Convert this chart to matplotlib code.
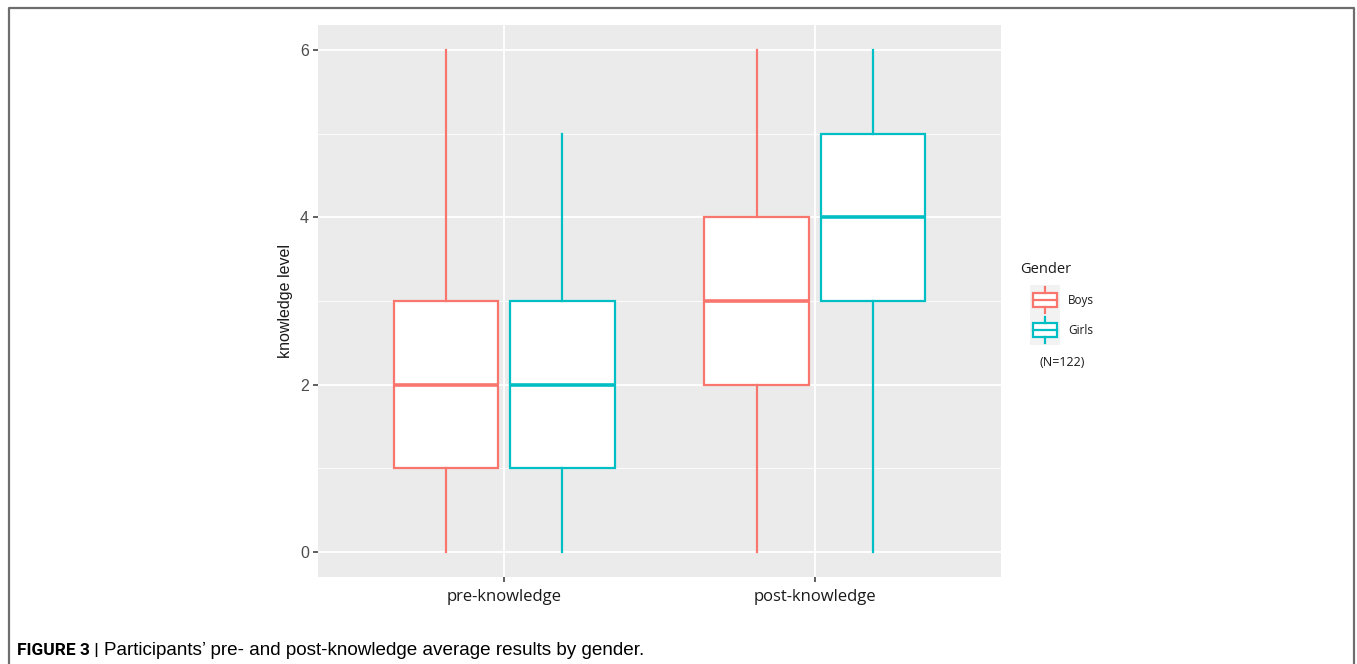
import matplotlib
matplotlib.use("Agg")
import matplotlib.pyplot as plt
from matplotlib.patches import Rectangle
from matplotlib.lines import Line2D

# Five-number summaries per group (knowledge score, 0-6)
categories = ["pre-knowledge", "post-knowledge"]
genders = ["Boys", "Girls"]
whisker_low = {"Boys": [0, 0], "Girls": [0, 0]}
q1 = {"Boys": [1, 2], "Girls": [1, 3]}
median = {"Boys": [2, 3], "Girls": [2, 4]}
q3 = {"Boys": [3, 4], "Girls": [3, 5]}
whisker_high = {"Boys": [6, 6], "Girls": [5, 6]}
colors = {"Boys": "#F8766D", "Girls": "#00BFC4"}
y_ticks = [0, 2, 4, 6]
n_label = "(N=122)"

W, H = 1357, 664
fig = plt.figure(figsize=(W / 100, H / 100), dpi=100)
fig.patch.set_facecolor("white")

# Page frame (left, top, right edges)
frame = Line2D([9 / W, 9 / W, 1354 / W, 1354 / W],
               [0, 1 - 8 / H, 1 - 8 / H, 0],
               transform=fig.transFigure, color="#6e6e6e", lw=1.6)
fig.add_artist(frame)

ax = fig.add_axes([318 / W, 1 - 577 / H, 683 / W, 552 / H])
ax.set_facecolor("#EBEBEB")
for s in ax.spines.values():
    s.set_visible(False)

ax.set_xlim(-0.6, len(categories) - 1 + 0.6)
ax.set_ylim(-0.3, 6.3)

# ggplot-like grid: major and minor lines in white
for y in y_ticks:
    ax.axhline(y, color="white", lw=1.3, zorder=0.5)
for y in [1, 3, 5]:
    ax.axhline(y, color="white", lw=0.6, zorder=0.5)
for x in range(len(categories)):
    ax.axvline(x, color="white", lw=1.3, zorder=0.5)

dodge = 0.1875
box_w = 0.3375
for gi, g in enumerate(genders):
    offset = -dodge if gi == 0 else dodge
    stats = []
    for ci in range(len(categories)):
        stats.append(dict(whislo=whisker_low[g][ci], q1=q1[g][ci], med=median[g][ci],
                          q3=q3[g][ci], whishi=whisker_high[g][ci], fliers=[]))
    pos = [ci + offset for ci in range(len(categories))]
    c = colors[g]
    ax.bxp(stats, positions=pos, widths=box_w, showcaps=False, patch_artist=True,
           boxprops=dict(facecolor="white", edgecolor=c, linewidth=1.6),
           whiskerprops=dict(color=c, linewidth=1.6),
           medianprops=dict(color=c, linewidth=2.6, solid_capstyle="butt"),
           manage_ticks=False, zorder=2)

ax.set_xticks(range(len(categories)))
ax.set_xticklabels(categories, fontsize=12, family="Open Sans", color="#1a1a1a")
ax.set_yticks(y_ticks)
ax.set_yticklabels([str(v) for v in y_ticks], fontsize=11.5, family="Liberation Sans",
                   color="#4D4D4D")
ax.tick_params(axis="both", length=3.5, width=1.1, color="#333333", pad=3)
ax.tick_params(axis="x", pad=5)
ax.set_ylabel("knowledge level", fontsize=11.5, family="Liberation Sans",
              color="#1a1a1a", labelpad=5)

# Legend drawn by hand
fig.text(1020 / W, 1 - 270 / H, "Gender", fontsize=10.5, family="Open Sans",
         color="#1a1a1a", va="center", ha="left")
key_ax = fig.add_axes([1030 / W, 1 - 345 / H, 30 / W, 60 / H])
key_ax.set_xlim(0, 1)
key_ax.set_ylim(0, 2)
key_ax.set_facecolor("#F2F2F2")
key_ax.set_xticks([])
key_ax.set_yticks([])
for s in key_ax.spines.values():
    s.set_visible(False)
for i, g in enumerate(genders):
    base = 1 - i  # Boys on top
    c = colors[g]
    key_ax.plot([0.5, 0.5], [base + 0.08, base + 0.28], color=c, lw=1.6)
    key_ax.plot([0.5, 0.5], [base + 0.72, base + 0.92], color=c, lw=1.6)
    key_ax.add_patch(Rectangle((0.1, base + 0.28), 0.8, 0.44, facecolor="white",
                               edgecolor=c, lw=1.6))
    key_ax.plot([0.1, 0.9], [base + 0.5, base + 0.5], color=c, lw=1.6)
    fig.text(1068 / W, 1 - (300 + 30 * i) / H, g, fontsize=8.5, family="Open Sans",
             color="#1a1a1a", va="center", ha="left")
fig.text(1040 / W, 1 - 362 / H, n_label, fontsize=9, family="Open Sans",
         color="#1a1a1a", va="center", ha="left")

# Caption: bold label followed by the description
base_y = 1 - 655 / H
label = fig.text(17 / W, base_y, "FIGURE 3 |", fontsize=12.5, family="Roboto",
                 weight="bold", color="black", va="baseline", ha="left")
renderer = fig.canvas.get_renderer()
right_px = label.get_window_extent(renderer).x1
fig.text((right_px + 5) / W, base_y,
         "Participants\u2019 pre- and post-knowledge average results by gender.",
         fontsize=13.6, family="Liberation Sans", color="black", va="baseline", ha="left")

fig.savefig("out.png", dpi=100, facecolor="white")
